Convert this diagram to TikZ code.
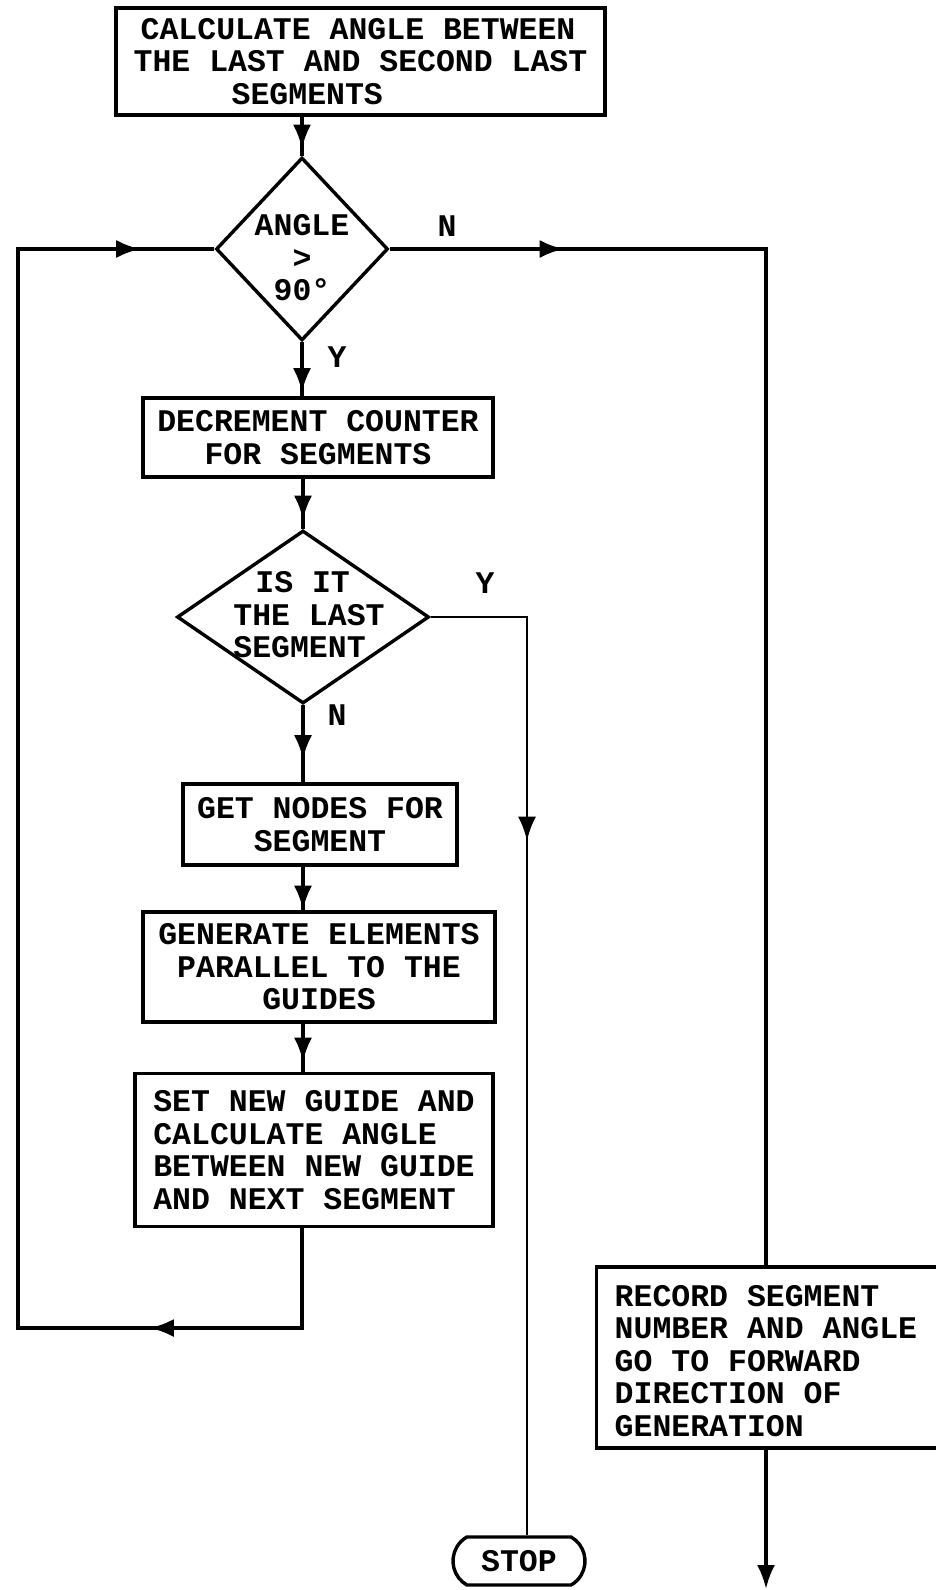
\documentclass[tikz,border=0pt]{standalone}
\usepackage{fontspec}
\setmonofont{Liberation Mono}
\usetikzlibrary{shapes.geometric,shapes.misc,arrows.meta,decorations.markings}
\begin{document}
\begin{tikzpicture}[x=1pt,y=-1pt,line width=3.4pt,
  every node/.style={font=\ttfamily\bfseries\fontsize{31.5}{32.5}\selectfont},
  box/.style={draw,rectangle,inner sep=0pt},
  dia/.style={draw,diamond,inner sep=0pt},
  txt/.style={inner sep=0pt},
  arrowtip/.style={-{Latex[length=24pt,width=18pt]}},
  arr/.style={postaction={decorate,decoration={markings,mark=at position #1 with {\arrow{Latex[length=24pt,width=18pt]}}}}}
]
\useasboundingbox (0,0) rectangle (936,1590);

% nodes
\node[box,minimum width=489,minimum height=107,align=left] (b1) at (360.5,61.5)
  {\hspace*{7pt}CALCULATE ANGLE BETWEEN\\THE LAST AND SECOND LAST\\\hspace*{98pt}SEGMENTS};
\node[dia,minimum width=172,minimum height=183] (d1) at (302,249) {};
\node[txt,align=center] (d1t) at (302,258) {ANGLE\\>\\90°};
\node[box,minimum width=350,minimum height=79,align=center] (b2) at (318,437.5)
  {DECREMENT COUNTER\\FOR SEGMENTS};
\node[dia,minimum width=252,minimum height=173] (d2) at (303,617) {};
\node[txt,align=left] (d2t) at (309,615) {\hspace*{22pt}IS IT\\THE LAST\\SEGMENT};
\node[box,minimum width=274,minimum height=81,align=center] (b3) at (320,824.5)
  {GET NODES FOR\\SEGMENT};
\node[box,minimum width=352,minimum height=110,align=center] (b4) at (319,967)
  {GENERATE ELEMENTS\\PARALLEL TO THE\\GUIDES};
\node[box,minimum width=358,minimum height=153,align=left] (b5) at (314,1150)
  {SET NEW GUIDE AND\\CALCULATE ANGLE\\BETWEEN NEW GUIDE\\AND NEXT SEGMENT};
\node[box,anchor=west,minimum width=352,minimum height=181] (b6) at (595,1357.5) {};
\node[txt,anchor=west,align=left] (b6t) at (613,1361)
  {RECORD SEGMENT\\NUMBER AND ANGLE\\GO TO FORWARD\\DIRECTION OF\\GENERATION};
\node[draw,rounded rectangle,rounded rectangle arc length=120,minimum width=132,minimum height=48,inner sep=0pt] (stop) at (519,1561) {STOP};

% labels
\node[txt] (lN1) at (447,226) {N};
\node[txt] (lY1) at (337,357) {Y};
\node[txt] (lY2) at (485,583) {Y};
\node[txt] (lN2) at (337,715) {N};

% coordinates
\coordinate (nE) at (766,249);
\coordinate (lA) at (302,1328);
\coordinate (lB) at (18,1328);
\coordinate (lC) at (18,249);
\coordinate (yC) at (527,617);
\coordinate (endpt) at (766,1589);

% connectors
\draw[arr=32pt] (d1.north |- b1.south) -- (d1.north);
\draw[arr=174pt] (d1.east) -- (nE) -- (nE |- b6.north);
\draw[arr=50pt] (d1.south) -- (d1.south |- b2.north);
\draw[arr=41pt] (d2.north |- b2.south) -- (d2.north);
\draw[arr=54pt] (d2.south) -- (d2.south |- b3.north);
\draw[arr=43pt] (d2.south |- b3.south) -- (d2.south |- b4.north);
\draw[arr=38pt] (d2.south |- b4.south) -- (d2.south |- b5.north);
\draw[arr=252pt,arr=1585pt] (lA |- b5.south) -- (lA) -- (lB) -- (lC) -- (d1.west);
\draw[line width=2.6pt,arr=320pt] (d2.east) -- (yC) -- (yC |- stop.north);
\draw[arrowtip] (nE |- b6.south) -- (endpt);
\end{tikzpicture}
\end{document}
